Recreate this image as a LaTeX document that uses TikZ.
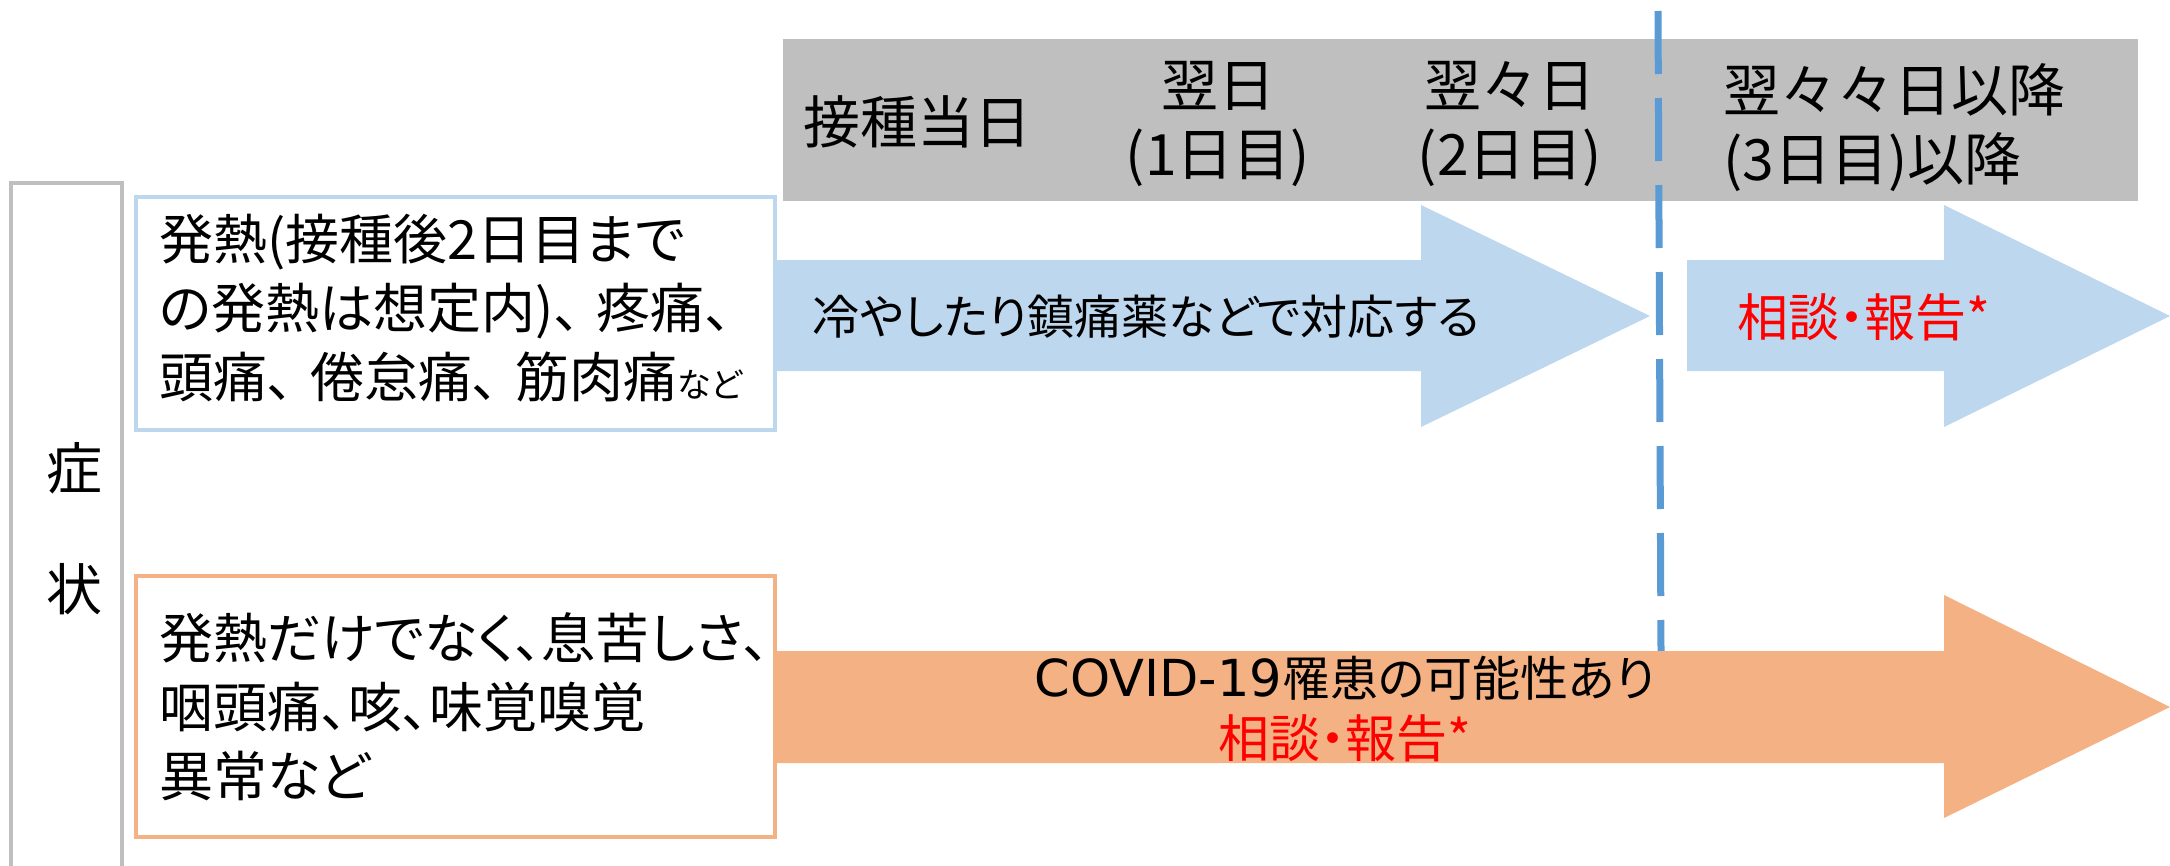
\documentclass[tikz,border=0pt]{standalone}
\usepackage{fontspec}
\setmainfont{Noto Sans CJK JP}
\newfontfamily\jpp{Noto Sans CJK JP}[RawFeature=+palt]
\newfontfamily\latn{DejaVu Sans}
\definecolor{lblue}{HTML}{BDD7EE}
\definecolor{lorange}{HTML}{F4B183}
\definecolor{hgray}{HTML}{BFBFBF}
\definecolor{dblue}{HTML}{5B9BD5}
\definecolor{myred}{HTML}{FF0000}
\newcommand{\tc}{、\hspace{0.3em}}
\begin{document}
\begin{tikzpicture}[x=1pt,y=-1pt,
  hdrbox/.style={fill=hgray, draw=none, minimum width=1355pt, minimum height=162pt, inner sep=0pt},
  htxt/.style={inner sep=0pt, font=\fontsize{57}{69}\selectfont},
  bluebox/.style={draw=lblue, line width=4pt, fill=white, minimum width=639pt, minimum height=233pt, inner sep=0pt},
  orangebox/.style={draw=lorange, line width=4pt, fill=white, minimum width=639pt, minimum height=261pt, inner sep=0pt},
  boxtxt/.style={inner sep=0pt, anchor=west, align=left, font=\jpp\fontsize{54}{69}\selectfont},
  lbl/.style={inner sep=0pt, font=\fontsize{56}{60}\selectfont},
  atxt/.style={inner sep=0pt, font=\jpp\fontsize{47}{56}\selectfont},
  redtxt/.style={inner sep=0pt, text=myred, font=\jpp\fontsize{51}{56}\selectfont},
  dashline/.style={draw=dblue, line width=7pt, dash pattern=on 63pt off 24pt},
  brk/.style={draw=hgray, line width=4pt},
  barrow/.style={fill=lblue, draw=none},
  oarrow/.style={fill=lorange, draw=none}]
\useasboundingbox (0,0) rectangle (2170,865);
\clip (0,0) rectangle (2170,865);
\fill[white] (0,0) rectangle (2170,865);

% header
\node[hdrbox] (hdr) at (1460.5,120) {};

% dashed separator
\coordinate (dtop) at (1658,11);
\coordinate (dbot) at (1661,651);
\draw[dashline] (dtop) -- (dbot);

\node[htxt] (h0) at (917,122) {接種当日};
\node[htxt, align=center] (h1) at (1218,124) {翌日\\(1日目)};
\node[htxt, align=center] (h2) at (1510,124) {翌々日\\(2日目)};
\node[htxt, align=left, anchor=west] (h3) at (1723,128) {翌々々日以降\\(3日目)以降};

% bracket
\coordinate (k1) at (11,900);
\coordinate (k2) at (11,183);
\coordinate (k3) at (122,183);
\coordinate (k4) at (122,900);
\draw[brk] (k1) -- (k2) -- (k3) -- (k4);
\node[lbl] (sho) at (74,468) {症};
\node[lbl] (jo) at (74,589) {状};

% arrows
\fill[barrow] (775,260) -- (1421,260) -- (1421,205) -- (1650,316) -- (1421,427) -- (1421,371) -- (775,371) -- cycle;
\fill[barrow] (1687,260) -- (1944,260) -- (1944,205) -- (2170,316) -- (1944,427) -- (1944,371) -- (1687,371) -- cycle;
\fill[oarrow] (775,651) -- (1944,651) -- (1944,595) -- (2170,707) -- (1944,818) -- (1944,763) -- (775,763) -- cycle;

\node[atxt] (a1t) at (1146,317) {冷やしたり鎮痛薬などで対応する};
\node[redtxt] (a2t) at (1864,317) {相談・報告*};
\node[inner sep=0pt, align=center, font=\jpp\fontsize{48}{61}\selectfont] (a3t) at (1345,709)
  {{\latn\fontsize{51}{61}\selectfont COVID-19}罹患の可能性あり\\\textcolor{myred}{\fontsize{51}{61}\selectfont 相談・報告*}};

% boxes
\node[bluebox] (b1) at (455.5,313.5) {};
\node[boxtxt] (t1) at (159,308) {発熱(接種後2日目まで\\の発熱は想定内)\tc 疼痛、\\頭痛\tc 倦怠痛\tc 筋肉痛{\fontsize{34}{34}\selectfont など}};
\node[orangebox] (b2) at (455.5,706.5) {};
\node[boxtxt] (t2) at (159,707) {発熱だけでなく、息苦しさ、\\咽頭痛、咳、味覚嗅覚\\異常など};
\end{tikzpicture}
\end{document}
